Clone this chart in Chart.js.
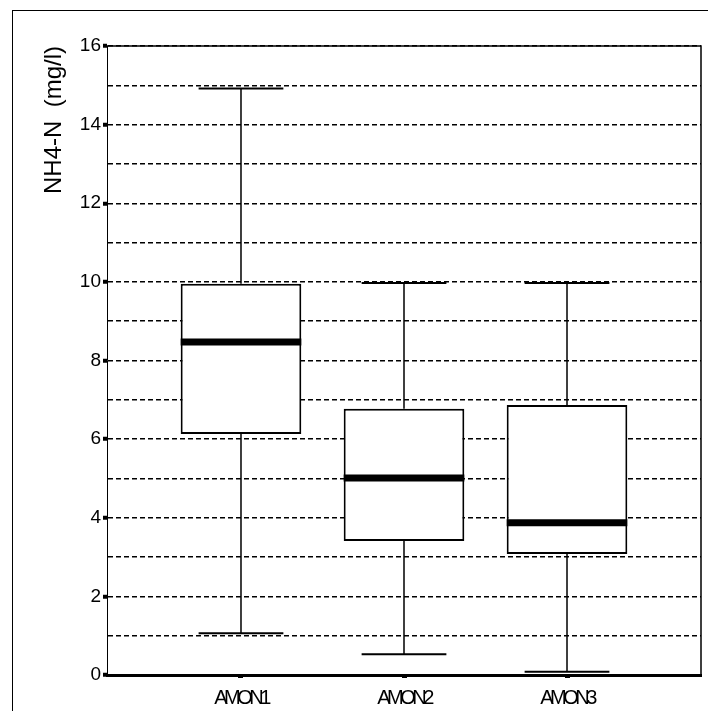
<!DOCTYPE html>
<html>
<head>
<meta charset="utf-8">
<script src="https://cdn.jsdelivr.net/npm/chart.js@4.4.1/dist/chart.umd.min.js"></script>
<style>
  html, body { margin: 0; padding: 0; background: #fff; overflow: hidden; }
  #frame { position: absolute; left: 12px; top: 10px; width: 800px; height: 800px;
           border-left: 1px solid #000; border-top: 1px solid #000; }
  #wrap { position: absolute; left: 0; top: 0; width: 708px; height: 711px; }
</style>
</head>
<body>
<div id="frame"></div>
<div id="wrap"><canvas id="box-chart" width="708" height="711"></canvas></div>
<script>
// box plot values
const categories = ["AMON1", "AMON2", "AMON3"];
const whiskerLow = [1.06, 0.53, 0.08];
const q1 = [6.13, 3.41, 3.08];
const median = [8.47, 5.01, 3.87];
const q3 = [9.95, 6.77, 6.87];
const whiskerHigh = [14.92, 9.97, 9.97];
const yTicks = [0, 2, 4, 6, 8, 10, 12, 14, 16];

// whiskers, caps and medians drawn through the chart scales
const boxExtras = {
  id: 'boxExtras',
  afterDatasetsDraw(chart) {
    const ctx = chart.ctx;
    const x = chart.scales.x, y = chart.scales.y;
    const area = chart.chartArea;
    ctx.save();
    ctx.strokeStyle = '#000';
    categories.forEach((c, i) => {
      const cx = x.getPixelForValue(i + 1);
      const capL = x.getPixelForValue(i + 1 - 0.26);
      const capR = x.getPixelForValue(i + 1 + 0.26);
      const boxL = x.getPixelForValue(i + 1 - 0.37);
      const boxR = x.getPixelForValue(i + 1 + 0.37);
      ctx.lineWidth = 1.5;
      ctx.beginPath();
      ctx.moveTo(cx, y.getPixelForValue(q3[i]));
      ctx.lineTo(cx, y.getPixelForValue(whiskerHigh[i]));
      ctx.moveTo(cx, y.getPixelForValue(q1[i]));
      ctx.lineTo(cx, y.getPixelForValue(whiskerLow[i]));
      ctx.stroke();
      ctx.lineWidth = 2;
      ctx.beginPath();
      ctx.moveTo(capL, y.getPixelForValue(whiskerHigh[i]));
      ctx.lineTo(capR, y.getPixelForValue(whiskerHigh[i]));
      ctx.moveTo(capL, y.getPixelForValue(whiskerLow[i]));
      ctx.lineTo(capR, y.getPixelForValue(whiskerLow[i]));
      ctx.stroke();
      ctx.lineWidth = 7;
      ctx.beginPath();
      ctx.moveTo(boxL, y.getPixelForValue(median[i]));
      ctx.lineTo(boxR, y.getPixelForValue(median[i]));
      ctx.stroke();
    });
    // top and right edges of the plot frame
    ctx.lineWidth = 1.5;
    ctx.beginPath();
    ctx.moveTo(area.left, area.top);
    ctx.lineTo(area.right, area.top);
    ctx.lineTo(area.right, area.bottom);
    ctx.stroke();
    ctx.restore();
    // x labels (drawn next, ticks.z = 1) are squeezed like the original
    ctx.letterSpacing = '-3.5px';
  },
  afterDraw(chart) {
    chart.ctx.letterSpacing = '0px';
  }
};

Chart.defaults.font.family = '"Liberation Sans", Arial, sans-serif';
Chart.defaults.color = '#000';

new Chart(document.getElementById("box-chart"), {
  type: 'bar',
  data: {
    datasets: [{
      label: "NH4-N",
      data: categories.map((c, i) => ({ x: i + 1, y: [q1[i], q3[i]] })),
      backgroundColor: '#fff',
      borderColor: '#000',
      borderWidth: 2,
      borderSkipped: false,
      barPercentage: 0.74,
      categoryPercentage: 1
    }]
  },
  plugins: [boxExtras],
  options: {
    responsive: false,
    animation: false,
    events: [],
    layout: { padding: { left: 0, right: 7, top: 46, bottom: 0 } },
    plugins: { legend: { display: false }, tooltip: { enabled: false } },
    scales: {
      x: {
        type: 'linear',
        offset: false,
        min: 0.178,
        max: 3.822,
        afterBuildTicks: (s) => { s.ticks = categories.map((c, i) => ({ value: i + 1 })); },
        afterFit: (s) => { s.height = 36; },
        ticks: {
          callback: (v) => categories[v - 1],
          font: { size: 20 },
          padding: 8,
          maxRotation: 0,
          z: 1
        },
        grid: { offset: false, drawOnChartArea: false, tickLength: 3, tickWidth: 5, tickColor: '#000' },
        border: { display: true, color: '#000', width: 3 }
      },
      y: {
        min: 0,
        max: 16,
        afterBuildTicks: (s) => {
          s.ticks = [];
          for (let v = 0; v <= 16; v++) s.ticks.push({ value: v });
        },
        afterFit: (s) => { s.width = 107; },
        ticks: {
          callback: (v) => yTicks.includes(v) ? String(v) : '',
          font: { size: 19 },
          padding: 2
        },
        grid: {
          color: '#000',
          lineWidth: 1.5,
          tickLength: 4,
          tickWidth: 4,
          tickColor: (c) => (c.tick && yTicks.includes(c.tick.value)) ? '#000' : 'rgba(0,0,0,0)'
        },
        border: { display: true, color: '#000', width: 1, dash: [5, 3] },
        title: {
          display: true,
          text: 'NH4-N  (mg/l)',
          align: 'end',
          font: { size: 24 },
          padding: { top: 40, bottom: 0 }
        }
      }
    }
  }
});
</script>
</body>
</html>
